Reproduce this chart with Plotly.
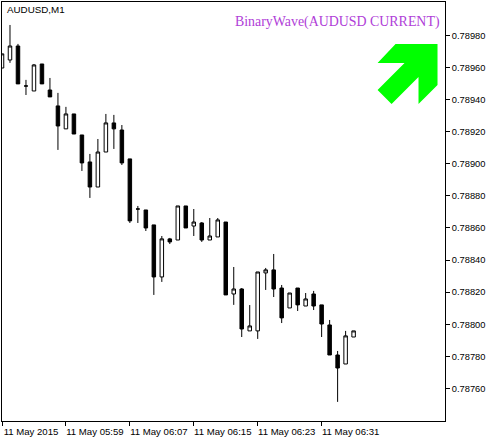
import plotly.graph_objects as go

bars = list(range(45))
open_ = [0.789596,0.789646,0.789733,0.789484,0.789453,0.789621,0.789459,0.789360,0.789217,0.789310,0.789179,0.789011,0.788855,0.789073,0.789254,0.789210,0.789030,0.788718,0.788712,0.788619,0.788295,0.788532,0.788525,0.788737,0.788612,0.788631,0.788525,0.788544,0.788637,0.788189,0.788220,0.787959,0.787959,0.788320,0.788339,0.788226,0.788102,0.788226,0.788114,0.788189,0.788121,0.787996,0.787809,0.787753,0.787921]
high  = [0.789684,0.789864,0.789746,0.789522,0.789621,0.789621,0.789534,0.789441,0.789354,0.789310,0.789179,0.789061,0.789154,0.789310,0.789304,0.789241,0.789030,0.788737,0.788712,0.788619,0.788550,0.788538,0.788737,0.788737,0.788718,0.788637,0.788662,0.788662,0.788637,0.788357,0.788226,0.788120,0.788326,0.788351,0.788438,0.788245,0.788195,0.788226,0.788195,0.788208,0.788121,0.788027,0.787834,0.787959,0.787959]
low   = [0.789596,0.789628,0.789497,0.789428,0.789453,0.789497,0.789416,0.789086,0.789217,0.789185,0.788955,0.788787,0.788855,0.789073,0.789092,0.788992,0.788631,0.788631,0.788581,0.788183,0.788264,0.788500,0.788525,0.788600,0.788550,0.788513,0.788525,0.788544,0.788183,0.788121,0.787921,0.787959,0.787909,0.788214,0.788170,0.788008,0.788102,0.788083,0.788114,0.788089,0.787921,0.787809,0.787517,0.787753,0.787921]
close = [0.789684,0.789733,0.789497,0.789484,0.789615,0.789497,0.789416,0.789235,0.789310,0.789185,0.789005,0.788855,0.789073,0.789254,0.789217,0.789005,0.788644,0.788718,0.788600,0.788295,0.788532,0.788513,0.788737,0.788600,0.788637,0.788525,0.788550,0.788650,0.788183,0.788220,0.787971,0.787990,0.788326,0.788339,0.788220,0.788040,0.788195,0.788121,0.788158,0.788114,0.788002,0.787809,0.787728,0.787928,0.787959]

tick_bars = [0, 8, 16, 24, 32, 40]
tick_labels = ["11 May 2015", "11 May 05:59", "11 May 06:07", "11 May 06:15", "11 May 06:23", "11 May 06:31"]
price_ticks = [0.78980, 0.78960, 0.78940, 0.78920, 0.78900, 0.78880, 0.78860, 0.78840, 0.78820, 0.78800, 0.78780, 0.78760]

W, H = 494, 438
L, R, T, B = 2, 445.5, 2, 421

def px(x, y):
    return (x - L) / (R - L), (B - y) / (B - T)

arrow_pts = [(396, 44), (438, 44), (438, 85), (419, 104), (419, 77), (392, 104), (378, 90), (405, 63), (378, 63)]
arrow_path = "M " + " L ".join("%.4f %.4f" % px(*p) for p in arrow_pts) + " Z"

fig = go.Figure(go.Candlestick(
    x=bars, open=open_, high=high, low=low, close=close,
    increasing=dict(line=dict(color="black", width=1), fillcolor="white"),
    decreasing=dict(line=dict(color="black", width=1), fillcolor="black"),
    whiskerwidth=0, showlegend=False, hoverinfo="skip",
))
FONT = "Liberation Sans"
fig.update_layout(
    width=W, height=H, autosize=False,
    margin=dict(l=L, r=W - R, t=T, b=H - B, autoexpand=False),
    paper_bgcolor="white", plot_bgcolor="white",
    boxgap=0.375,
    font=dict(family=FONT, size=10, color="black"),
    xaxis=dict(range=[0, (R - L) / 8], rangeslider=dict(visible=False), showgrid=False, zeroline=False,
               tickmode="array", tickvals=tick_bars, ticktext=tick_labels, ticks="outside", ticklen=4,
               tickcolor="black", showline=True, linecolor="black", linewidth=1, mirror=True, tickangle=0,
               ticklabelshift=29, ticklabelstandoff=-3, tickfont=dict(family=FONT, size=9.6)),
    yaxis=dict(range=[0.787398, 0.790007], side="right", showgrid=False, zeroline=False,
               tickmode="array", tickvals=price_ticks, tickformat=".5f", ticks="outside", ticklen=4,
               tickcolor="black", showline=True, linecolor="black", linewidth=1, mirror=True,
               tickfont=dict(family=FONT, size=9.3)),
    shapes=[dict(type="path", xref="paper", yref="paper", path=arrow_path, fillcolor="#00FF00", line=dict(width=0))],
    annotations=[
        dict(text="AUDUSD,M1", xref="paper", yref="paper", x=px(5, 0)[0], y=px(0, 10)[1],
             xanchor="left", yanchor="middle", showarrow=False, font=dict(family=FONT, size=9.8, color="black")),
        dict(text="BinaryWave(AUDUSD CURRENT)", xref="paper", yref="paper", x=px(442, 0)[0], y=px(0, 21.5)[1],
             xanchor="right", yanchor="middle", showarrow=False, font=dict(family="Liberation Serif", size=13.9, color="#B040D8")),
    ],
)
fig.write_html("out.html", config=dict(displayModeBar=False), post_script="document.body.style.margin='0';")
